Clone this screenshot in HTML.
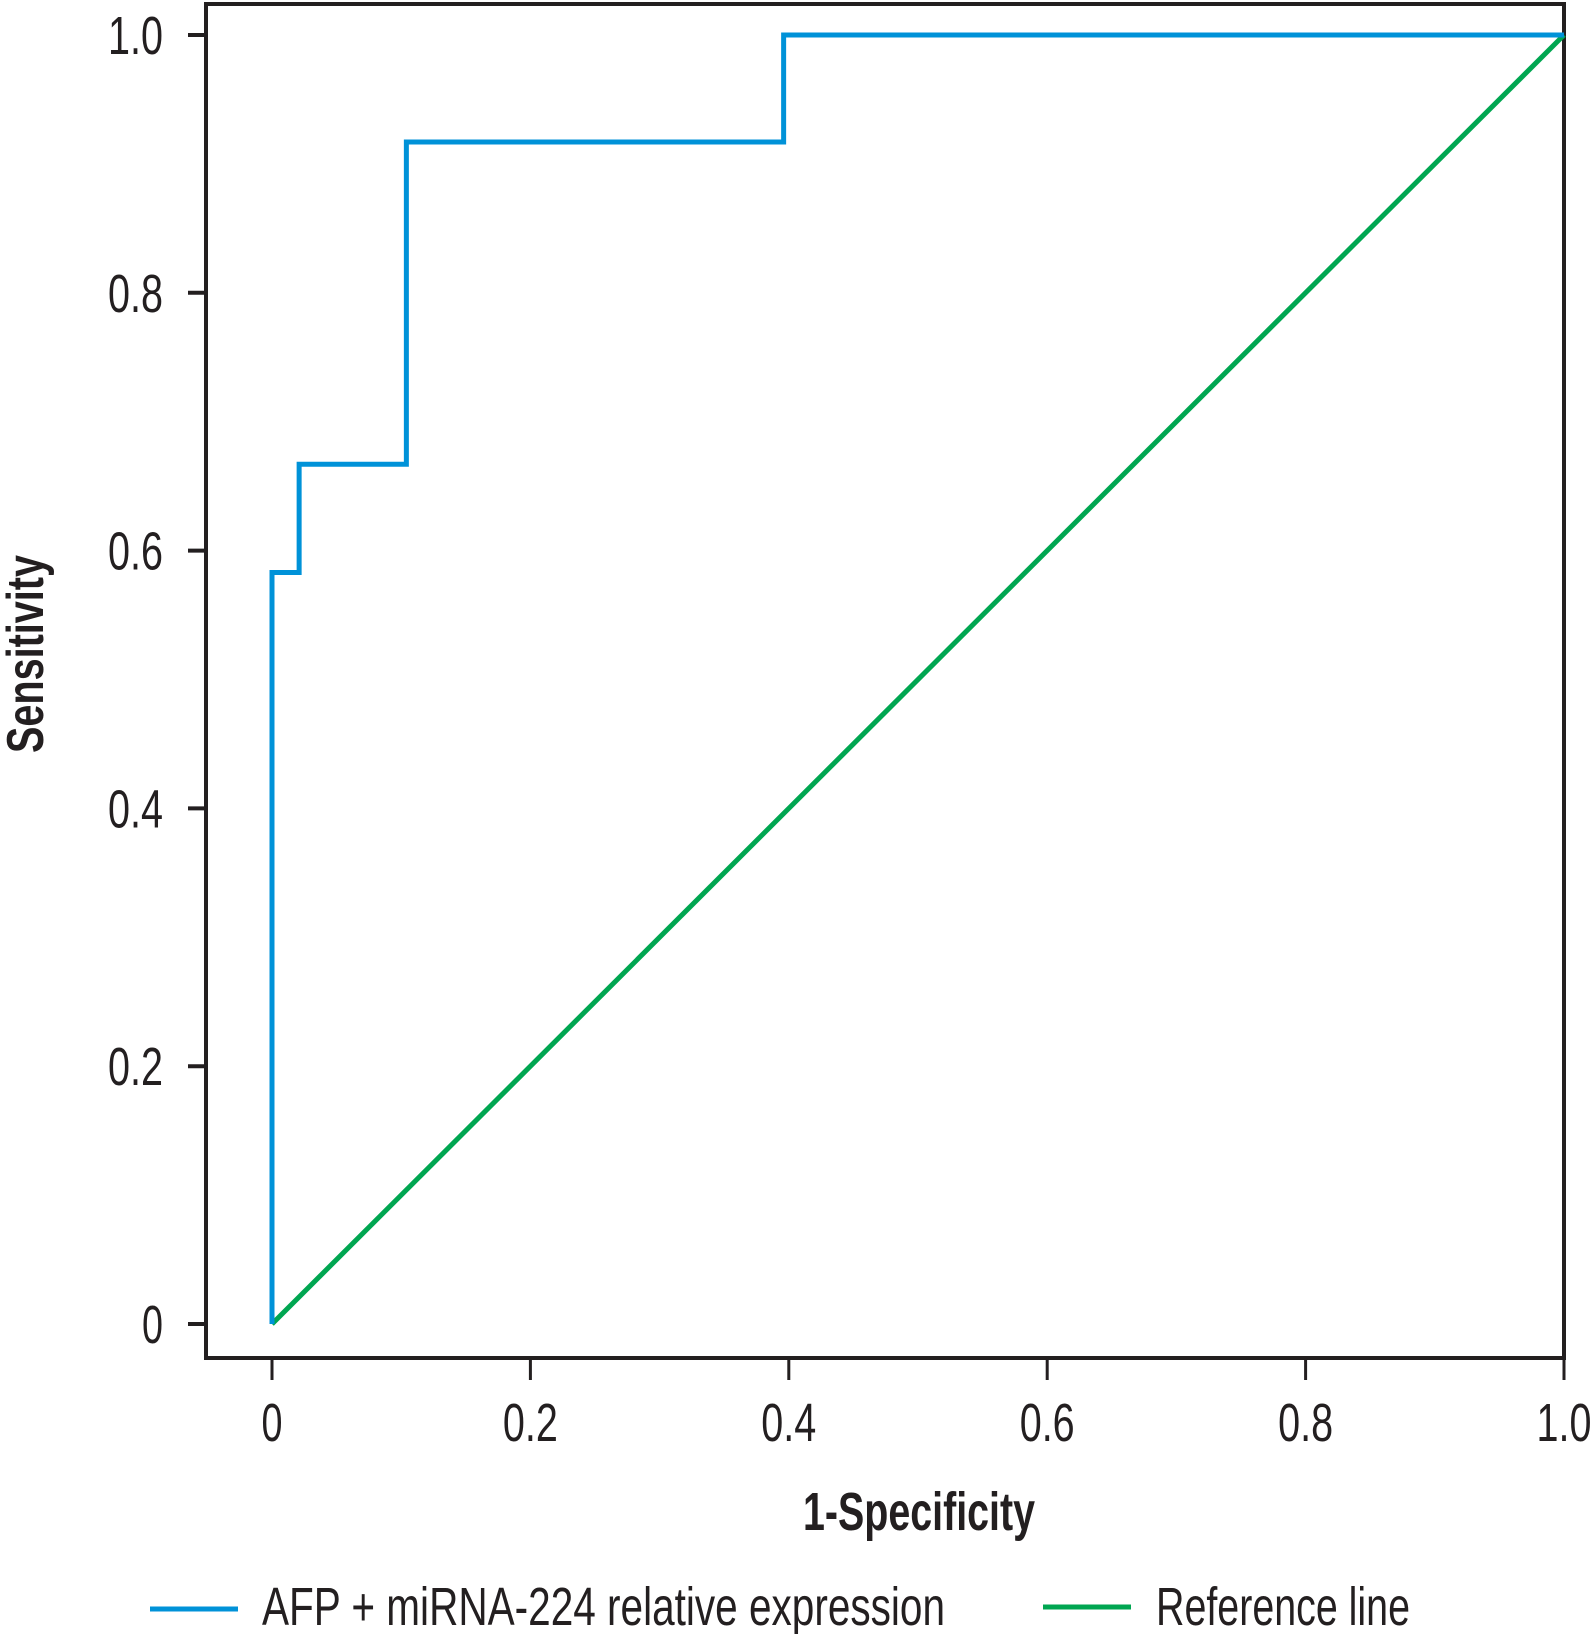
<!DOCTYPE html>
<html><head><meta charset="utf-8"><style>
html,body{margin:0;padding:0;background:#fff;}
svg{display:block;}
text{font-family:"Liberation Sans Narrow","Liberation Sans",sans-serif;fill:#231f20;}
</style></head><body>
<svg id="chart" width="1590" height="1634" viewBox="0 0 1590 1634">
<g id="plot"></g>
</svg>
<script>
const rocX = [0, 0, 0.021, 0.021, 0.104, 0.104, 0.396, 0.396, 1.0];
const rocY = [0, 0.583, 0.583, 0.667, 0.667, 0.917, 0.917, 1.0, 1.0];
const refX = [0, 1];
const refY = [0, 1];
const xTicks = [0, 0.2, 0.4, 0.6, 0.8, 1.0];
const xTickLabels = ["0", "0.2", "0.4", "0.6", "0.8", "1.0"];
const yTicks = [0, 0.2, 0.4, 0.6, 0.8, 1.0];
const yTickLabels = ["0", "0.2", "0.4", "0.6", "0.8", "1.0"];

const NS = "http://www.w3.org/2000/svg";
const g = document.getElementById('plot');
const X0 = 272, X1 = 1564, Y0 = 1324, Y1 = 35;
const sx = v => X0 + v * (X1 - X0);
const sy = v => Y0 - v * (Y0 - Y1);
function mk(tag, attrs, parent) {
  const e = document.createElementNS(NS, tag);
  for (const k in attrs) e.setAttribute(k, attrs[k]);
  (parent || g).appendChild(e);
  return e;
}
function lblW(s) { return s.length === 1 ? 21 : 55; }
const frame = mk('rect', {x: 206, y: 4, width: 1358, height: 1354, fill: 'none', stroke: '#231f20', 'stroke-width': 4});


yTicks.forEach((v, i) => {
  const t = mk('line', {x1: 188, x2: 206, y1: sy(v), y2: sy(v), stroke: '#231f20', 'stroke-width': 4});
  
  
  const s = yTickLabels[i];
  const l = mk('text', {x: 163 - lblW(s), y: sy(v) + 19, 'font-size': 54, textLength: lblW(s), lengthAdjust: 'spacingAndGlyphs'});
  l.textContent = s;
  
  
});
xTicks.forEach((v, i) => {
  const t = mk('line', {x1: sx(v), x2: sx(v), y1: 1358, y2: 1380, stroke: '#231f20', 'stroke-width': 3});
  
  
  const s = xTickLabels[i];
  const l = mk('text', {x: sx(v) - lblW(s) / 2, y: 1441, 'font-size': 54, textLength: lblW(s), lengthAdjust: 'spacingAndGlyphs'});
  l.textContent = s;
  
  
});
const ref = mk('polyline', {points: refX.map((x, i) => sx(x) + ',' + sy(refY[i])).join(' '), fill: 'none', stroke: '#00a651', 'stroke-width': 5});


const roc = mk('polyline', {points: rocX.map((x, i) => sx(x) + ',' + sy(rocY[i])).join(' '), fill: 'none', stroke: '#0092d8', 'stroke-width': 5});


const xt = mk('text', {x: 803, y: 1530, 'font-size': 54, 'font-weight': 'bold', textLength: 232, lengthAdjust: 'spacingAndGlyphs'});
xt.textContent = '1-Specificity';


const yt = mk('text', {x: -99, y: 0, 'font-size': 52, 'font-weight': 'bold', textLength: 198, lengthAdjust: 'spacingAndGlyphs', transform: 'translate(43,654) rotate(-90)'});
yt.textContent = 'Sensitivity';


const lg1 = mk('line', {x1: 150, x2: 238, y1: 1609, y2: 1609, stroke: '#0092d8', 'stroke-width': 5});


const lt1 = mk('text', {x: 262, y: 1625, 'font-size': 54, textLength: 683, lengthAdjust: 'spacingAndGlyphs'});
lt1.textContent = 'AFP + miRNA-224 relative expression';


const lg2 = mk('line', {x1: 1043, x2: 1131, y1: 1607, y2: 1607, stroke: '#00a651', 'stroke-width': 5});


const lt2 = mk('text', {x: 1156, y: 1625, 'font-size': 54, textLength: 254, lengthAdjust: 'spacingAndGlyphs'});
lt2.textContent = 'Reference line';


</script>
</body></html>
